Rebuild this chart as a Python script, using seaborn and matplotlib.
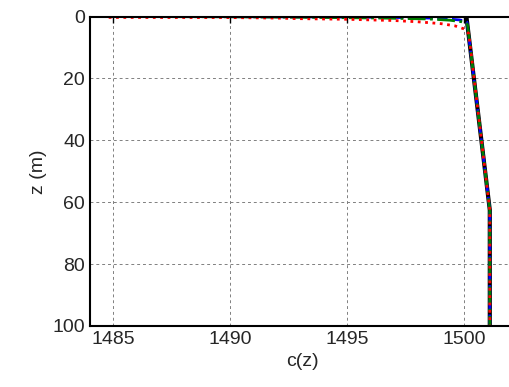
import matplotlib
matplotlib.use("Agg")
import matplotlib.pyplot as plt
import seaborn as sns

# sound speed profiles, c (m/s) against depth z (m)
z_base = [0.0, 62.5, 100.0]
c_base = [1500.1, 1501.1, 1501.1]

z_blue = [0.0, 0.05, 0.15, 0.3, 0.5, 0.8, 1.1, 1.5, 1.9, 62.5, 100.0]
c_blue = [1485.0, 1490.0, 1494.0, 1497.0, 1498.5, 1499.3, 1499.8, 1500.05, 1500.13, 1501.1, 1501.1]

z_green = [0.0, 0.1, 0.25, 0.5, 0.8, 1.2, 1.7, 2.2, 2.8, 62.5, 100.0]
c_green = [1485.0, 1490.0, 1493.0, 1496.5, 1498.5, 1499.4, 1499.9, 1500.1, 1500.15, 1501.1, 1501.1]

z_red = [0.3, 0.35, 0.5, 0.7, 0.9, 1.3, 1.7, 2.3, 3.0, 4.0, 5.5, 62.5, 100.0]
c_red = [1484.8, 1490.0, 1492.0, 1493.0, 1495.0, 1497.0, 1498.0, 1499.0, 1499.6, 1500.0, 1500.2, 1501.1, 1501.1]

sns.set_style("white")
plt.rcParams["font.family"] = ["Liberation Sans", "DejaVu Sans"]

fig = plt.figure(figsize=(5.09, 3.87), dpi=100)
ax = fig.add_axes([90 / 509, 61 / 387, 425.5 / 509, 309.5 / 387])

kw = dict(sort=False, estimator=None, ax=ax)
sns.lineplot(x=c_base, y=z_base, color="black", lw=3, **kw)
sns.lineplot(x=c_blue, y=z_blue, color="blue", lw=2, linestyle="--", **kw)
sns.lineplot(x=c_green, y=z_green, color="green", lw=2, linestyle="-.", **kw)
sns.lineplot(x=c_red, y=z_red, color="red", lw=2, linestyle=":", **kw)

ax.set_xlim(1484, 1502.2)
ax.set_ylim(100, 0)
ax.set_xticks([1485, 1490, 1495, 1500])
ax.set_yticks([0, 20, 40, 60, 80, 100])
ax.grid(True, color="0.5", linestyle=(0, (3, 3)), lw=0.7)
ax.tick_params(direction="in", length=4, width=1, labelsize=14, top=True, right=True, color="black")
for s in ax.spines.values():
    s.set_color("black")
    s.set_linewidth(1.5)
ax.set_xlabel("c(z)", fontsize=14)
ax.set_ylabel("z (m)", fontsize=14)

fig.savefig("out.png", dpi=100)
